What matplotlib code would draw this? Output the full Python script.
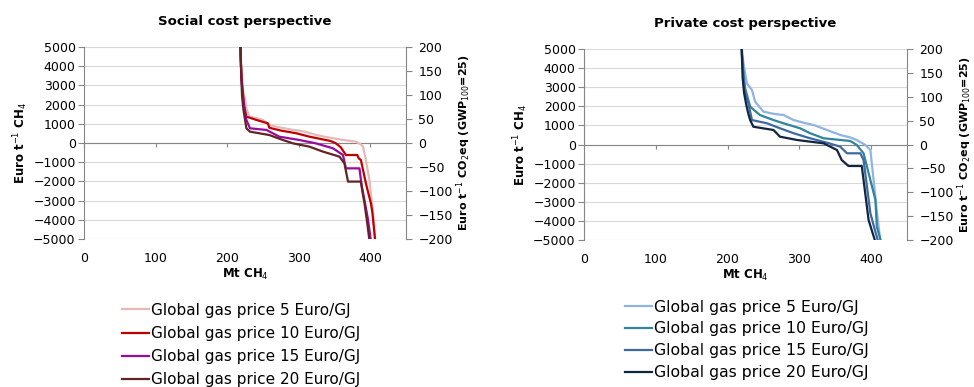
import numpy as np
import matplotlib
matplotlib.use('Agg')
import matplotlib.pyplot as plt

plt.rcParams['font.family'] = ['DejaVu Sans']

# --- datos (Mt CH4, Euro/t CH4) ---
labels = ['Global gas price 5 Euro/GJ', 'Global gas price 10 Euro/GJ',
          'Global gas price 15 Euro/GJ', 'Global gas price 20 Euro/GJ']

social_x = [
    [218, 219, 221, 222, 225, 227, 231, 240, 250, 259, 268, 278, 290, 301, 312, 324, 340, 357, 370, 380, 386, 390, 394, 399, 403, 405, 407],
    [218, 219, 220, 222, 224, 227, 233, 241, 257, 259, 262, 275, 297, 315, 338, 345, 352, 359, 366, 382, 384, 387, 394, 401, 403, 407],
    [218, 219, 220, 222, 224, 227, 232, 255, 273, 301, 324, 348, 362, 366, 385, 388, 392, 397, 401],
    [218, 219, 220, 221, 223, 227, 232, 259, 278, 292, 315, 334, 357, 364, 369, 387, 389, 392, 396, 399],
]
social_y = [
    [6000, 4500, 3500, 2800, 2300, 1800, 1370, 1300, 1200, 940, 850, 780, 700, 640, 560, 420, 300, 190, 120, 70, -50, -190, -890, -1930, -3320, -4000, -5100],
    [6000, 4500, 3500, 2600, 1900, 1370, 1300, 1200, 1025, 800, 765, 650, 505, 330, 156, 100, -17, -225, -625, -625, -800, -885, -2100, -3140, -3600, -5100],
    [6000, 4500, 3400, 2500, 1800, 1200, 765, 680, 330, 156, -17, -277, -625, -1320, -1320, -2200, -2970, -4000, -5100],
    [6000, 4500, 3300, 2400, 1700, 765, 590, 415, 156, -17, -190, -450, -710, -1060, -2010, -2010, -2500, -3140, -4200, -5100],
]
private_x = [
    [219, 220, 222, 224.5, 227, 234, 238.5, 250, 265, 278, 292, 305, 320, 338.5, 357, 370, 380, 392, 399, 401, 403.5, 408, 413],
    [219, 220, 222, 224, 227, 231.5, 245, 264, 278, 301, 315, 334, 371, 380, 389.5, 399, 406, 408, 414],
    [219, 220, 222, 224, 226, 229, 234, 255, 273, 292, 315, 338.5, 357, 366.5, 385, 389.5, 399, 404, 410],
    [219, 220, 221, 223, 226, 229, 231.5, 236, 264, 273, 297, 334, 352.5, 359, 368.5, 387, 389.5, 396.5, 401, 406],
]
private_y = [
    [6000, 5000, 4300, 3720, 3200, 2850, 2240, 1720, 1600, 1545, 1280, 1150, 1020, 760, 500, 380, 235, -25, -290, -1000, -1860, -3500, -5100],
    [6000, 4800, 3800, 3000, 2600, 1980, 1545, 1280, 1110, 850, 590, 325, 185, -25, -460, -1860, -2900, -4300, -5100],
    [6000, 4700, 3600, 2900, 2500, 2160, 1280, 1110, 850, 590, 325, 95, -115, -460, -460, -810, -3600, -4300, -5100],
    [6000, 4600, 3500, 2700, 2100, 1600, 1280, 930, 760, 410, 235, 60, -290, -810, -1125, -1125, -1860, -3950, -4500, -5100],
]

social_colors = ['#E6B9B8', '#C00000', '#9A0A9E', '#632523']
private_colors = ['#8EB4E3', '#31849B', '#3E6A9E', '#10253F']

GWP = 25
gray = '#868686'

fig = plt.figure(figsize=(9.74, 3.87), dpi=100)


def panel(rect, xs, ys, colors, title, leg_anchor, leg_fs, leg_sp):
    ax = fig.add_axes(rect)
    for x, y, c, lab in zip(xs, ys, colors, labels):
        ax.plot(x, y, color=c, lw=1.6, label=lab, zorder=3)
    ax.set_xlim(0, 450)
    ax.set_ylim(-5000, 5000)
    ax.set_yticks(np.arange(-5000, 5001, 1000))
    ax.set_xticks([0, 100, 200, 300, 400])
    ax.grid(axis='y', color='#D9D9D9', lw=0.8, zorder=0)
    for s in ['top', 'right']:
        ax.spines[s].set_visible(False)
    ax.spines['left'].set_color(gray)
    ax.spines['bottom'].set_position(('data', 0))
    ax.spines['bottom'].set_color(gray)
    ax.spines['bottom'].set_zorder(2)
    ax.tick_params(axis='x', direction='out', length=3, color=gray, labelbottom=False)
    ax.tick_params(axis='y', direction='out', length=4, color=gray, labelsize=9, pad=2)
    # etiquetas del eje x abajo (como en Excel "bajo")
    sec = ax.secondary_xaxis('bottom')
    sec.set_xticks([0, 100, 200, 300, 400])
    sec.spines['bottom'].set_visible(False)
    sec.tick_params(length=0, labelsize=9, pad=9)
    sec.set_xlabel('Mt CH$_4$', fontweight='bold', fontsize=8.5, labelpad=2)
    ax.set_ylabel('Euro t$^{-1}$ CH$_4$', fontweight='bold', fontsize=8.5, labelpad=2)
    ax.set_title(title, fontweight='bold', fontsize=9.5, pad=16)

    # eje derecho en Euro/t CO2eq
    ax2 = ax.twinx()
    ax2.set_ylim(-5000 / GWP, 5000 / GWP)
    ax2.set_yticks(np.arange(-200, 201, 50))
    for s in ['top', 'left', 'bottom']:
        ax2.spines[s].set_visible(False)
    ax2.spines['right'].set_color(gray)
    ax2.tick_params(axis='y', direction='out', length=4, color=gray, labelsize=9, pad=5)
    ax2.set_ylabel('Euro t$^{-1}$ CO$_2$eq (GWP$_{100}$=25)', fontweight='bold', fontsize=8, labelpad=1)

    h, l = ax.get_legend_handles_labels()
    fig.legend(h, l, loc='upper left', bbox_to_anchor=leg_anchor, frameon=False,
               fontsize=leg_fs, handlelength=1.75, handletextpad=0.12, labelspacing=leg_sp,
               borderpad=0, borderaxespad=0)
    return ax


panel([0.0862, 0.3824, 0.3306, 0.4962], social_x, social_y, social_colors,
      'Social cost perspective', (0.1253, 0.218), 11, 0.54)
panel([0.5996, 0.3798, 0.3316, 0.4936], private_x, private_y, private_colors,
      'Private cost perspective', (0.6417, 0.226), 11.3, 0.44)

fig.savefig('out.png', dpi=100)
